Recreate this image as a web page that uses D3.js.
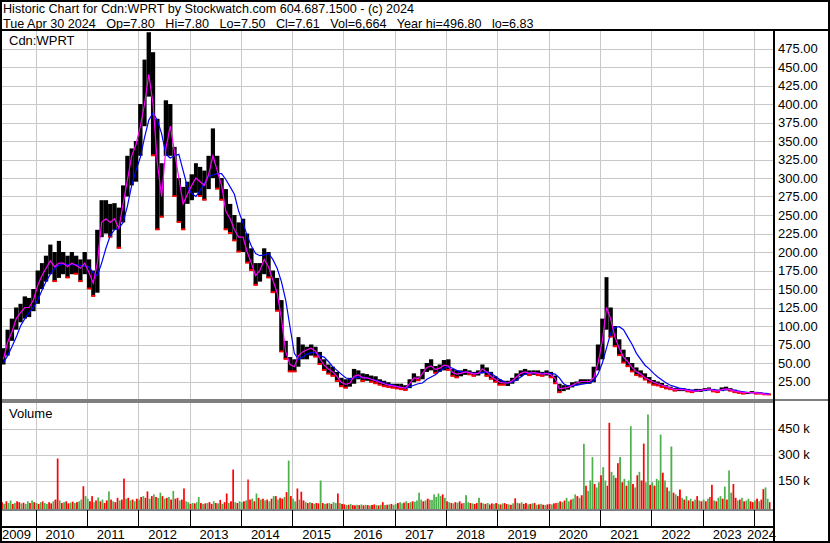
<!DOCTYPE html>
<html>
<head>
<meta charset="utf-8">
<script src="https://cdn.jsdelivr.net/npm/d3@7"></script>
<style>
body { margin: 0; background: #fff; }
svg { display: block; font-family: Arial, "Liberation Sans", sans-serif; }
text { white-space: pre; }
</style>
</head>
<body>
<svg id="svg" width="830" height="543"></svg>
<script>
// monthly values, May 2009 .. Apr 2024
var hi = [
  70,95,110,125,130,140,138,150,
  175,185,195,210,200,215,200,195,200,195,190,200,
  190,175,230,270,270,265,266,260,290,330,340,350,
  400,460,497,470,380,320,405,400,342,300,288,295,
  305,320,315,310,330,367,330,300,285,265,250,240,
  245,225,205,185,185,205,200,175,165,135,80,58,
  55,85,75,72,75,72,65,55,48,45,38,30,
  28,30,42,40,36,35,33,32,28,26,24,22,
  22,22,20,28,36,32,42,50,55,46,48,54,
  55,42,40,40,42,40,38,40,48,44,38,32,
  28,26,26,30,36,40,42,40,40,40,38,40,
  38,33,22,20,20,24,25,28,28,28,45,75,
  110,166,125,100,82,68,58,50,44,40,36,31,
  27,25,23,20,18,16,16,16,15,14,15,15,
  16,17,15,14,17,18,16,14,12,11,11,12,
  11,10,9,8.5];
var lo = [
  48,60,80,95,105,110,112,120,
  130,150,160,170,160,165,170,165,170,170,160,170,
  150,140,145,220,225,220,230,205,240,275,290,295,
  330,370,410,330,230,247,330,330,275,240,230,265,
  270,280,275,270,285,300,285,270,230,225,215,200,
  200,185,175,155,160,170,165,145,120,65,55,38,
  38,45,55,55,60,58,48,40,35,32,25,18,
  16,18,22,28,25,26,24,22,20,18,17,16,
  15,14,13,16,24,26,28,38,40,36,38,40,
  40,32,30,32,34,34,32,33,36,32,28,24,
  20,20,19,22,26,32,34,33,34,33,32,33,
  30,22,10,12,14,17,20,22,22,22,24,40,
  55,95,85,72,60,50,45,38,33,31,27,23,
  20,19,17,15,14,12,12,12,11,10,11,11,
  12,13,11,10,12,13,12,10,9,8,8,9,
  8,8,7,6.8];
var maFast = [
  55,78,92,110,118,125,125,135,
  155,168,178,188,180,185,185,180,185,182,178,185,
  172,158,185,240,245,240,245,232,265,297,330,345,
  370,400,440,400,320,275,340,370,335,300,265,278,
  290,300,295,290,305,330,310,290,255,245,230,220,
  220,200,185,168,175,190,180,162,145,110,65,48,
  45,60,65,68,70,66,56,47,42,38,32,24,
  21,23,32,34,30,30,28,26,24,22,20,19,
  18,17,16,22,30,29,36,44,46,41,43,47,
  46,37,35,36,38,37,35,36,42,38,32,28,
  24,23,23,26,31,36,38,36,37,36,35,36,
  34,29,15,16,17,20,23,25,25,25,30,50,
  80,125,110,85,70,58,52,44,38,35,30,27,
  24,22,20,18,16,14,14,14,13,12,12,13,
  14,15,13,12,14,15,14,12,11,10,10,10,
  9.5,9,8,7.6];
var maSlow = [
  50,60,72,85,100,110,118,125,
  135,148,160,170,178,182,184,183,183,183,182,181,
  180,172,168,185,205,222,230,232,240,262,290,310,
  328,355,378,388,378,360,332,327,330,332,310,288,
  279,275,283,293,302,304,306,306,298,288,278,255,
  239,222,208,198,195,196,198,190,178,160,135,99,
  63,55,58,62,64,64,60,58,52,45,40,35,
  30,28,30,31,31,30,28,27,25,23,21,20,
  18,17,16,18,20,22,23,28,31,34,39,43,
  45,43,40,38,38,37,36,36,37,38,36,32,
  28,25,23,24,27,31,35,37,37,36,36,36,
  36,35,30,22,19,19,20,21,22,23,26,35,
  50,70,90,98,99,95,85,75,63,55,47,42,
  36,31,27,23,20,18,16,15,14,13,13,13,
  13,14,14,13,13,14,14,13,12,11,10,10,
  10,9.5,9,8.5];

// half-month volume, thousands
var volK = [
  25,15,30,20,35,15,20,30,25,18,22,15,30,20,35,25,
  20,15,25,30,20,15,25,18,30,40,277,35,20,25,30,18,22,28,20,25,30,40,117,60,
  45,30,60,25,35,52,30,40,20,35,87,40,30,25,50,35,40,161,45,50,35,40,30,45,
  40,55,60,50,87,45,60,70,55,50,80,60,45,50,55,40,90,45,50,35,40,104,30,25,
  15,20,18,25,55,20,15,18,20,25,15,30,20,18,38,15,25,75,20,30,213,25,20,30,
  25,30,35,156,40,45,30,75,50,40,45,35,40,30,45,60,60,40,50,45,55,83,265,60,
  45,30,104,40,85,35,25,20,25,20,15,20,18,150,20,15,18,20,15,25,20,75,20,15,
  12,8,10,15,8,6,10,8,12,7,10,8,6,9,12,8,6,10,25,8,10,12,15,10,
  15,20,25,18,22,30,20,25,30,28,35,80,40,30,35,45,40,38,70,55,75,60,70,50,
  30,25,20,18,25,22,30,18,20,65,25,20,18,15,20,50,22,18,15,20,12,18,15,20,
  15,12,18,20,15,12,10,18,47,22,18,25,15,20,12,15,18,20,10,12,15,10,8,12,
  15,12,18,20,22,30,25,35,50,30,40,45,70,60,50,65,362,120,90,150,285,130,110,140,
  180,227,150,120,483,200,180,165,250,285,140,160,120,150,463,130,110,180,200,150,363,140,531,125,
  140,120,160,150,415,195,150,110,90,346,80,70,60,98,50,40,60,35,45,30,40,60,35,30,
  40,30,45,55,125,35,30,50,60,45,115,40,208,80,130,50,35,40,50,30,35,45,30,25,
  35,45,30,40,100,110,45,25];
var volDir =
  "rgrggrgrrgrggrgr" +
  "grgrggrrgrrgrgrrgrgrggrg" +
  "grrgrgrgrrgrgrrgrrgrgrgr" +
  "grgrrgrgrggrgrgrgrrgrrgg" +
  "rgrggrgrgrrgrgrgrrgrrgrg" +
  "grgrrgrgrgrgrgrgrgrrgrgr" +
  "ggrgrrgrgrgrrgrgrgrggrgr" +
  "rgrgrrgrgrgrgrrgrgrgrgrg" +
  "grggrgrgrggggrgrggggggrg" +
  "rgrgrgrrgggrgrrgrgrgrrgr" +
  "grgrrgrgrgrgrrgrgrgrgrgr" +
  "rgrrgrgrggrggrgrgrgggrgg" +
  "rggrrggrrgrgrggrgrgrrggr" +
  "grgggrgrggrgrrgrgrgrgrgr" +
  "grgrrgrggrgrggrrgrgrggrr" +
  "grgrrggr";

var priceTicks = [25,50,75,100,125,150,175,200,225,250,275,300,325,350,375,400,425,450,475];
var volTicks = [150,300,450];
var years = [2009,2010,2011,2012,2013,2014,2015,2016,2017,2018,2019,2020,2021,2022,2023,2024];

var header1 = "Historic Chart for Cdn:WPRT by Stockwatch.com 604.687.1500 - (c) 2024";
var header2 = "Tue Apr 30 2024   Op=7.80   Hi=7.80   Lo=7.50   Cl=7.61   Vol=6,664   Year hi=496.80   lo=6.83";

var lastDay = new Date(2024, 3, 30);
var x = d3.scaleTime().domain([new Date(2009, 4, 7), new Date(2024, 4, 22)]).range([2, 774]);
var y = d3.scaleLinear().domain([0, 500]).range([400, 30]);
var yv = d3.scaleLinear().domain([0, 600]).range([506.5, 402.5]);

function monthStart(i) { return new Date(2009, 4 + i, 1); }
function monthEnd(i) { var d = monthStart(i + 1); return d > lastDay ? lastDay : d; }
function monthMid(i) { return new Date((monthStart(i).getTime() + monthEnd(i).getTime()) / 2); }
function halfStart(s) { return new Date(2009, 4 + Math.floor(s / 2), s % 2 ? 16 : 1); }
function halfEnd(s) { var d = halfStart(s + 1); return d > lastDay ? lastDay : d; }

var svg = d3.select("#svg");
svg.append("rect").attr("width", 830).attr("height", 543).attr("fill", "#fff");

// grid
var grid = svg.append("g").attr("stroke", "#c8c8c8").attr("stroke-width", 1);
grid.selectAll("line.h").data(priceTicks).enter().append("line")
  .attr("x1", 2).attr("x2", 773)
  .attr("y1", function(d) { return Math.round(y(d)) + 0.5; })
  .attr("y2", function(d) { return Math.round(y(d)) + 0.5; });
grid.selectAll("line.vh").data(volTicks).enter().append("line")
  .attr("x1", 2).attr("x2", 773)
  .attr("y1", function(d) { return Math.round(yv(d)) + 0.5; })
  .attr("y2", function(d) { return Math.round(yv(d)) + 0.5; });
var bounds = years.slice(1).map(function(yr) { return new Date(yr, 0, 1); });
grid.selectAll("line.v1").data(bounds).enter().append("line")
  .attr("x1", function(d) { return Math.round(x(d)) + 0.5; })
  .attr("x2", function(d) { return Math.round(x(d)) + 0.5; })
  .attr("y1", 31).attr("y2", 399);
grid.selectAll("line.v2").data(bounds).enter().append("line")
  .attr("x1", function(d) { return Math.round(x(d)) + 0.5; })
  .attr("x2", function(d) { return Math.round(x(d)) + 0.5; })
  .attr("y1", 403).attr("y2", 509);

// price bars
svg.append("g").selectAll("rect").data(hi).enter().append("rect")
  .attr("x", function(d, i) { return x(monthStart(i)); })
  .attr("width", function(d, i) { return x(monthEnd(i)) - x(monthStart(i)); })
  .attr("y", function(d) { return y(d); })
  .attr("height", function(d, i) { return y(lo[i]) - y(d); })
  .attr("fill", "#000");

// red ticks at the low of falling months
var redG = svg.append("g").attr("fill", "#ff0000");
lo.forEach(function(d, i) {
  if (i > 0 && maFast[i] < maFast[i - 1]) {
    redG.append("rect")
      .attr("x", x(monthStart(i)))
      .attr("width", x(monthEnd(i)) - x(monthStart(i)))
      .attr("y", y(d) - 1.5).attr("height", 2);
  }
});

// moving averages
var line = d3.line()
  .x(function(d, i) { return x(monthMid(i)); })
  .y(function(d) { return y(d); });
svg.append("path").datum(maSlow).attr("d", line)
  .attr("fill", "none").attr("stroke", "#0000ff").attr("stroke-width", 1.2);
svg.append("path").datum(maFast).attr("d", line)
  .attr("fill", "none").attr("stroke", "#ff00ff").attr("stroke-width", 1.2);

// volume
svg.append("g").selectAll("rect").data(volK).enter().append("rect")
  .attr("x", function(d, i) { return x(halfStart(i)); })
  .attr("width", function(d, i) { return Math.max(1, x(halfEnd(i)) - x(halfStart(i)) - 0.4); })
  .attr("y", function(d) { return yv(d); })
  .attr("height", function(d) { return 509 - yv(d); })
  .attr("fill", function(d, i) { return volDir[i] === "g" ? "#4cb04c" : "#ff0000"; });

// frame lines
var frame = svg.append("g").attr("fill", "#000");
frame.append("rect").attr("x", 0).attr("y", 29).attr("width", 830).attr("height", 2);
frame.append("rect").attr("x", 0).attr("y", 399.5).attr("width", 830).attr("height", 1);
frame.append("rect").attr("x", 0).attr("y", 401.5).attr("width", 774).attr("height", 1);
frame.append("rect").attr("x", 0).attr("y", 509.5).attr("width", 774).attr("height", 1);
frame.append("rect").attr("x", 0).attr("y", 526).attr("width", 774).attr("height", 2);
frame.append("rect").attr("x", 773).attr("y", 29).attr("width", 2).attr("height", 513);
frame.selectAll("rect.tick").data(bounds).enter().append("rect")
  .attr("x", function(d) { return Math.round(x(d)); })
  .attr("y", 510).attr("width", 1).attr("height", 16);
frame.append("rect").attr("x", Math.round(x(bounds[0]))).attr("y", 528).attr("width", 1).attr("height", 13);
svg.append("rect").attr("x", 1).attr("y", 1).attr("width", 828).attr("height", 541)
  .attr("fill", "none").attr("stroke", "#000").attr("stroke-width", 2);

// axes
var pAxis = svg.append("g").attr("transform", "translate(778,0)")
  .call(d3.axisRight(y).tickValues(priceTicks).tickFormat(d3.format(".2f")).tickSize(0).tickPadding(0));
var vAxis = svg.append("g").attr("transform", "translate(778,0)")
  .call(d3.axisRight(yv).tickValues(volTicks).tickFormat(function(d) { return d + " k"; }).tickSize(0).tickPadding(0));
[pAxis, vAxis].forEach(function(a) {
  a.select(".domain").remove();
  a.attr("font-size", 13).attr("font-family", "Arial, 'Liberation Sans', sans-serif");
  a.selectAll("text").attr("fill", "#000");
});

// year labels
svg.append("g").selectAll("text").data(years).enter().append("text")
  .attr("x", function(d) { return Math.max(2, Math.min(x(new Date(d, 0, 1)) + 10, 747)); })
  .attr("y", 539)
  .attr("font-size", 13).attr("fill", "#000")
  .text(function(d) { return d; });

// titles
svg.append("text").attr("x", 3).attr("y", 13).attr("font-size", 12.6).text(header1);
svg.append("text").attr("x", 3).attr("y", 27.5).attr("font-size", 12.6).text(header2);
svg.append("text").attr("x", 9).attr("y", 45).attr("font-size", 13).text("Cdn:WPRT");
svg.append("text").attr("x", 9).attr("y", 418).attr("font-size", 13).text("Volume");
</script>
</body>
</html>
